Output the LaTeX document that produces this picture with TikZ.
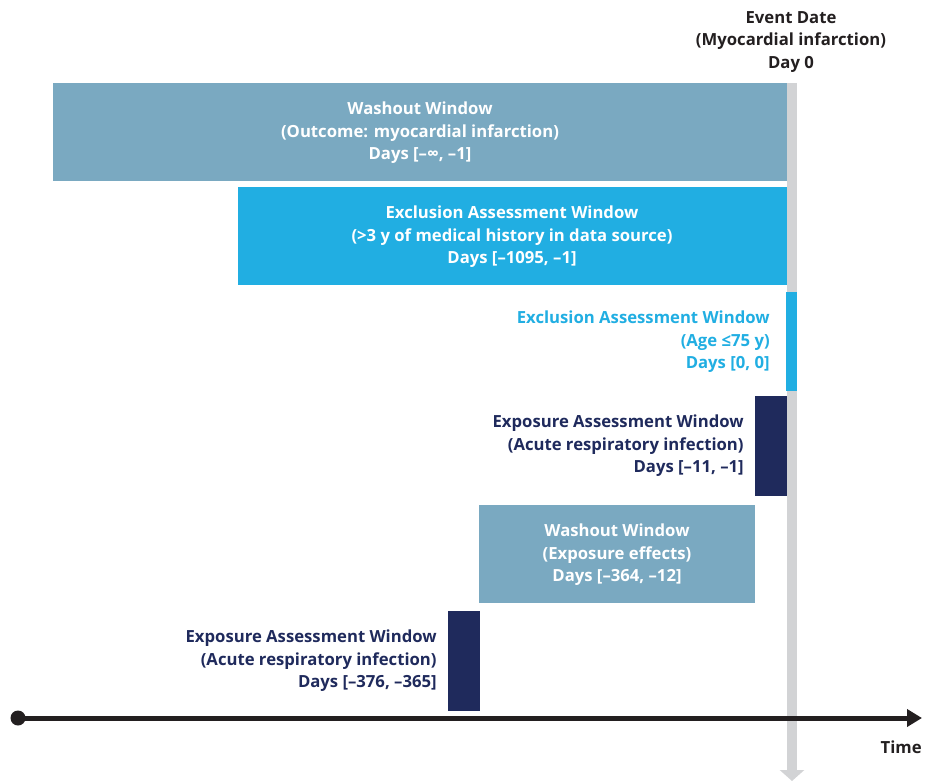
\documentclass[tikz,border=0pt]{standalone}
\usepackage{fontspec}
\setmainfont{Open Sans}
\usetikzlibrary{arrows.meta}
\definecolor{washout}{RGB}{122,169,193}
\definecolor{exclusion}{RGB}{33,174,226}
\definecolor{exposure}{RGB}{31,42,92}
\definecolor{eventgray}{RGB}{210,211,213}
\definecolor{axis}{RGB}{35,31,32}
\begin{document}
\begin{tikzpicture}[x=0.02cm, y=-0.02cm, font=\fontsize{9.5}{12.8}\selectfont\bfseries,
  wintext/.style={align=center, inner sep=0pt},
  sidetext/.style={align=right, anchor=east, inner sep=0pt}]
\useasboundingbox (0,0) rectangle (926,784);
% event date line
\node[wintext, text=axis] (ev) at (791,42) {Event Date\\(Myocardial infarction)\\Day 0};
\coordinate (d0) at (792,83);
\coordinate (d1) at (792,781);
\draw[line width=0.2cm, draw=eventgray, -{Triangle[width=0.48cm, length=0.22cm]}] (d0) -- (d1);
% windows
\fill[washout] (53,83) rectangle (787,181);
\node[wintext, white] (W1) at (420,133) {Washout Window\\(Outcome: myocardial infarction)\\Days [–∞, –1]};
\fill[exclusion] (238,187) rectangle (787,285);
\node[wintext, white] (X1) at (512,237) {Exclusion Assessment Window\\(>3 y of medical history in data source)\\Days [–1095, –1]};
\fill[exclusion] (786,292) rectangle (797,391);
\node[sidetext, text=exclusion] (X2) at (770,342) {Exclusion Assessment Window\\(Age ≤75 y)\\Days [0, 0]};
\fill[exposure] (755,396) rectangle (787,496);
\node[sidetext, text=exposure] (P1) at (744,446) {Exposure Assessment Window\\(Acute respiratory infection)\\Days [–11, –1]};
\fill[washout] (479,505) rectangle (755,603);
\node[wintext, white] (W2) at (617,555) {Washout Window\\(Exposure effects)\\Days [–364, –12]};
\fill[exposure] (448,611) rectangle (480,711);
\node[sidetext, text=exposure] (P2) at (437,661) {Exposure Assessment Window\\(Acute respiratory infection)\\Days [–376, –365]};
% time axis
\node[circle, fill=axis, minimum size=0.3cm, inner sep=0pt] (t0) at (18,718) {};
\coordinate (t1) at (922,718);
\draw[line width=0.1cm, draw=axis, -{Triangle[width=0.34cm, length=0.3cm]}] (t0.center) -- (t1);
\node[anchor=east, inner sep=0pt, text=axis] (time) at (922,747) {Time};
\end{tikzpicture}
\end{document}
